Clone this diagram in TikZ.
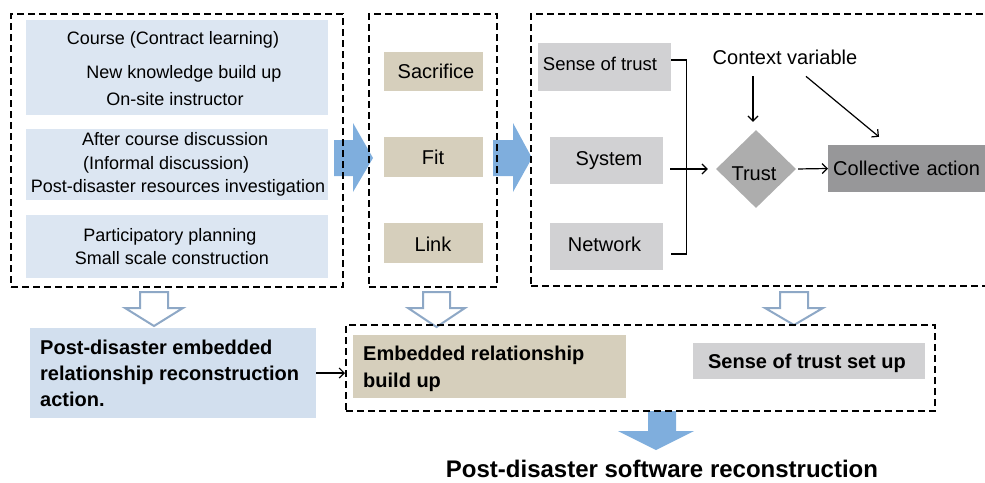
\documentclass[tikz,border=0pt]{standalone}
\usepackage{fontspec}
\setmainfont{Liberation Sans}
\usetikzlibrary{fit,arrows.meta,shapes.geometric,calc}
\definecolor{panelblue}{HTML}{DCE6F2}
\definecolor{actblue}{HTML}{D2DFEE}
\definecolor{sandtan}{HTML}{D6CFBC}
\definecolor{softgray}{HTML}{D1D1D3}
\definecolor{diamondgray}{HTML}{ADADAD}
\definecolor{deepgray}{HTML}{979799}
\definecolor{arrowblue}{HTML}{7FAEDD}
\definecolor{hollowedge}{HTML}{8EA8C6}

\begin{document}
\begin{tikzpicture}[x=1pt,y=-1pt,
  frame/.style={draw=black, line width=2pt, dash pattern=on 7pt off 4pt, inner sep=0pt},
  box/.style={inner sep=0pt},
  t/.style={inner sep=0pt, font=\fontsize{#1pt}{#1pt}\selectfont,
            text height={0.716*#1pt}, text depth=0pt},
  tb/.style={t=#1, font=\fontsize{#1pt}{#1pt}\selectfont\bfseries},
  conn/.style={-{Straight Barb[length=5pt,width=10pt]}, line width=1.2pt},
  wire/.style={line width=1.2pt},
  fat/.style={fill=arrowblue},
  hollow/.style={draw=hollowedge, line width=2pt, fill=white, line join=miter}]

\clip (0,0) rectangle (985,482);

% ---- block arrows (drawn first so the dashed frames sit on top) ----
\fill[fat] (334,140) -- (353,140) -- (353,123) -- (373,158) -- (353,192) -- (353,176) -- (334,176) -- cycle;
\fill[fat] (493,140) -- (513,140) -- (513,123) -- (532,158) -- (513,192) -- (513,176) -- (493,176) -- cycle;
\fill[fat] (648,411) -- (676,411) -- (676,431) -- (694,431) -- (656,450) -- (618,431) -- (648,431) -- cycle;

\draw[hollow] (140,292) -- (168,292) -- (168,308) -- (183,308) -- (154,326) -- (125,308) -- (140,308) -- cycle;
\draw[hollow] (423,292) -- (450,292) -- (450,308) -- (465,308) -- (436.5,327) -- (408,308) -- (423,308) -- cycle;
\draw[hollow] (780,292) -- (808,292) -- (808,308) -- (823,308) -- (794,325) -- (765,308) -- (780,308) -- cycle;

% ---- left panel: learning activities ----
\node[box, fill=panelblue, fit={(26,20)(328,115)}] (c1) {};
\node[box, fill=panelblue, fit={(26,129)(328,200)}] (c2) {};
\node[box, fill=panelblue, fit={(26,215)(328,278)}] (c3) {};
\node[t=18] (c1a) at (173,38) {Course (Contract learning)};
\node[t=18] (c1b) at (184,72) {New knowledge build up};
\node[t=18] (c1c) at (175,99) {On-site instructor};
\node[t=18, anchor=west] (c2a) at (82,139) {After course discussion};
\node[t=18, anchor=west] (c2b) at (83,163) {(Informal discussion)};
\node[t=18] (c2c) at (178,186) {Post-disaster resources investigation};
\node[t=18] (c3a) at (170,235) {Participatory planning};
\node[t=18] (c3b) at (172,258) {Small scale construction};
\node[frame, fit={(11,14)(343,287)}] (fL) {};

% ---- middle panel: embeddedness ----
\node[box, fill=sandtan, fit={(384,52)(483,91)}] (sac) {};
\node[box, fill=sandtan, fit={(384,137)(483,177)}] (fit) {};
\node[box, fill=sandtan, fit={(384,223)(483,263)}] (link) {};
\node[t=20] (saclbl) at (436,71) {Sacrifice};
\node[t=20] (fitlbl) at (433,157) {Fit};
\node[t=20] (linklbl) at (433,244) {Link};
\node[frame, fit={(369,14)(497,287)}] (fM) {};

% ---- right panel: trust model ----
\node[box, fill=softgray, fit={(538,43)(671,91)}] (sense) {};
\node[box, fill=softgray, fit={(550,137)(663,184)}] (sys) {};
\node[box, fill=softgray, fit={(550,223)(663,270)}] (net) {};
\node[t=18.5] (senselbl) at (600,64) {Sense of trust};
\node[t=20] (syslbl) at (609,158) {System};
\node[t=20] (netlbl) at (604.5,244) {Network};
\node[diamond, fill=diamondgray, minimum width=80pt, minimum height=78pt, inner sep=0pt] (trust) at (756,169) {};
\node[t=20] (trustlbl) at (754,173) {Trust};
\node[t=20] (ctx) at (785,57) {Context variable};
\node[t=20, fill=deepgray, inner xsep=5pt, minimum height=47pt, text width=160pt, align=left, anchor=west] (coll) at (828,168.5) {Collective action};
\node[frame, fit={(531,14)(995,286)}] (fR) {};

\draw[wire] ([shift={(0pt,7pt)}]sense.east) -- ++(15,0) |- ([shift={(8pt,-7.5pt)}]net.east);
\draw[conn, shorten >=8pt] ([xshift=7pt]sys.east |- trust.west) -- (trust.west);
\draw[conn, shorten <=2pt] (trust.east) -- (coll.west);
\draw[conn] ([shift={(-32pt,-12pt)}]ctx.south) -- ([shift={(-3pt,8pt)}]trust.north);
\draw[conn] ([shift={(21pt,-12pt)}]ctx.south) -- ([shift={(51pt,8pt)}]coll.north west);

% ---- outcomes ----
\node[box, fill=actblue, fit={(30,328)(316,418)}] (pd) {};
\node[tb=20, anchor=west] (pd1) at (40,347) {Post-disaster embedded};
\node[tb=20, anchor=west] (pd2) at (40,373) {relationship reconstruction};
\node[tb=20, anchor=west] (pd3) at (40,399) {action.};

\node[box, fill=sandtan, fit={(353,335)(626,398)}] (emb) {};
\node[tb=20, anchor=west] (emb1) at (363,353) {Embedded relationship};
\node[tb=20, anchor=west] (emb2) at (363,380) {build up};
\node[box, fill=softgray, fit={(693,343)(925,379)}] (sts) {};
\node[tb=20] (stslbl) at (807,361) {Sense of trust set up};
\node[frame, fit={(346,325)(935,411)}] (fB) {};

\draw[conn] (pd.east) -- (pd.east -| fB.west);

\node[tb=24] (final) at (662,469) {Post-disaster software reconstruction};
\end{tikzpicture}
\end{document}
